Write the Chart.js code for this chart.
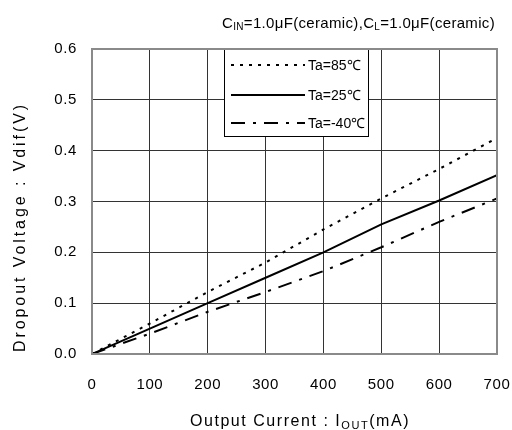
<!DOCTYPE html>
<html>
<head>
<meta charset="utf-8">
<script src="https://cdn.jsdelivr.net/npm/chart.js@4/dist/chart.umd.min.js"></script>
<style>
html,body{margin:0;padding:0;background:#fff;}
#wrap{width:512px;height:430px;}
</style>
</head>
<body>
<div id="wrap"><canvas id="c" width="512" height="430"></canvas></div>
<script>
const currents = [0, 100, 200, 300, 400, 500, 600, 700];
const vdif85 = [0, 0.060, 0.122, 0.180, 0.245, 0.306, 0.364, 0.425];
const vdif25 = [0, 0.050, 0.100, 0.150, 0.200, 0.255, 0.302, 0.352];
const vdifM40 = [0, 0.040, 0.083, 0.122, 0.163, 0.210, 0.260, 0.306];
const seriesLabels = ['Ta=85\u2103', 'Ta=25\u2103', 'Ta=-40\u2103'];
const xTicks = [0, 100, 200, 300, 400, 500, 600, 700];
const yTicks = [0.0, 0.1, 0.2, 0.3, 0.4, 0.5, 0.6];

const FONT = '"Liberation Sans", Arial, sans-serif';
const dashes = [[3, 6], [], [14, 8, 3, 8]];

function pts(vals){ return currents.map((x,i)=>({x:x, y:vals[i]})); }

const datasets = [vdif85, vdif25, vdifM40].map((v,i)=>({
  label: seriesLabels[i],
  data: pts(v),
  borderColor: '#000',
  borderWidth: 2,
  borderDash: dashes[i],
  pointRadius: 0,
  fill: false,
  tension: 0
}));

function drawParts(ctx, parts, x, y, align, bigPx, smallPx, subDy, targetW){
  const big = bigPx + 'px ' + FONT, small = smallPx + 'px ' + FONT;
  ctx.letterSpacing = '0px';
  let total = 0, n = 0;
  parts.forEach(p=>{ ctx.font = p[1] ? small : big; total += ctx.measureText(p[0]).width; n += p[0].length; });
  let sp = targetW ? Math.max(0, (targetW - total) / n) : 0;
  const W = total + sp * n;
  let cx = align === 'center' ? x - W/2 : (align === 'right' ? x - W : x);
  ctx.textAlign = 'left';
  ctx.textBaseline = 'alphabetic';
  ctx.letterSpacing = sp + 'px';
  parts.forEach(p=>{
    ctx.font = p[1] ? small : big;
    ctx.fillText(p[0], cx, p[1] ? y + subDy : y);
    cx += ctx.measureText(p[0]).width;
  });
  ctx.letterSpacing = '0px';
}

const spacing = {
  id: 'spacing',
  beforeDraw(chart){ chart.ctx.letterSpacing = '0.6px'; }
};

const deco = {
  id: 'deco',
  afterDraw(chart){
    const ctx = chart.ctx;
    const ca = chart.chartArea;
    ctx.save();
    ctx.fillStyle = '#000';
    drawParts(ctx, [['C',0],['IN',1],['=1.0\u03bcF(ceramic),C',0],['L',1],['=1.0\u03bcF(ceramic)',0]],
      495, 28, 'right', 15, 10, 2, 273);
    drawParts(ctx, [['Output Current : I',0],['OUT',1],['(mA)',0]], 300, 426, 'center', 16, 11, 3, 220);
    ctx.save();
    ctx.translate(25, 227);
    ctx.rotate(-Math.PI/2);
    drawParts(ctx, [['Dropout Voltage : Vdif(V)',0]], 0, 0, 'center', 16, 11, 0, 250);
    ctx.restore();
    const bx = 224, by = ca.top, bw = 144, bh = 87;
    ctx.fillStyle = '#fff';
    ctx.fillRect(bx, by, bw, bh);
    ctx.strokeStyle = '#000';
    ctx.lineWidth = 1;
    ctx.strokeRect(bx + 0.5, by + 0.5, bw, bh);
    const rows = [65, 95, 123];
    chart.data.datasets.forEach((ds,i)=>{
      ctx.beginPath();
      ctx.setLineDash(ds.borderDash);
      ctx.lineWidth = 2;
      ctx.strokeStyle = '#000';
      ctx.moveTo(231, rows[i]);
      ctx.lineTo(305, rows[i]);
      ctx.stroke();
      ctx.setLineDash([]);
      ctx.fillStyle = '#000';
      ctx.font = '14px ' + FONT;
      ctx.letterSpacing = '0px';
      ctx.textAlign = 'left';
      ctx.textBaseline = 'middle';
      ctx.fillText(ds.label, 308, rows[i] + 1);
    });
    ctx.strokeStyle = '#8a8a8a';
    ctx.lineWidth = 2;
    ctx.strokeRect(ca.left, ca.top, ca.right - ca.left, ca.bottom - ca.top);
    ctx.restore();
  }
};

new Chart(document.getElementById('c'), {
  type: 'line',
  data: { datasets },
  options: {
    responsive: false,
    animation: false,
    layout: { padding: { left: 0, right: 15, top: 49, bottom: 0 } },
    plugins: { legend: { display: false }, tooltip: { enabled: false } },
    scales: {
      x: {
        type: 'linear', min: 0, max: 700,
        afterFit(s){ s.height = 430 - 354; s.paddingLeft = 0; s.paddingRight = 0; },
        afterBuildTicks(s){ s.ticks = xTicks.map(v=>({value:v})); },
        ticks: { color: '#000', font: { family: FONT, size: 15 }, padding: 22, maxRotation: 0 },
        grid: { color: '#333', lineWidth: 1, drawTicks: false },
        border: { display: false }
      },
      y: {
        type: 'linear', min: 0, max: 0.6,
        afterFit(s){ s.width = 92; s.paddingTop = 0; s.paddingBottom = 0; },
        afterBuildTicks(s){ s.ticks = yTicks.map(v=>({value:v})); },
        ticks: { color: '#000', font: { family: FONT, size: 15 }, padding: 15, callback: v => Number(v).toFixed(1) },
        grid: { color: '#333', lineWidth: 1, drawTicks: false },
        border: { display: false }
      }
    }
  },
  plugins: [spacing, deco]
});
</script>
</body>
</html>
